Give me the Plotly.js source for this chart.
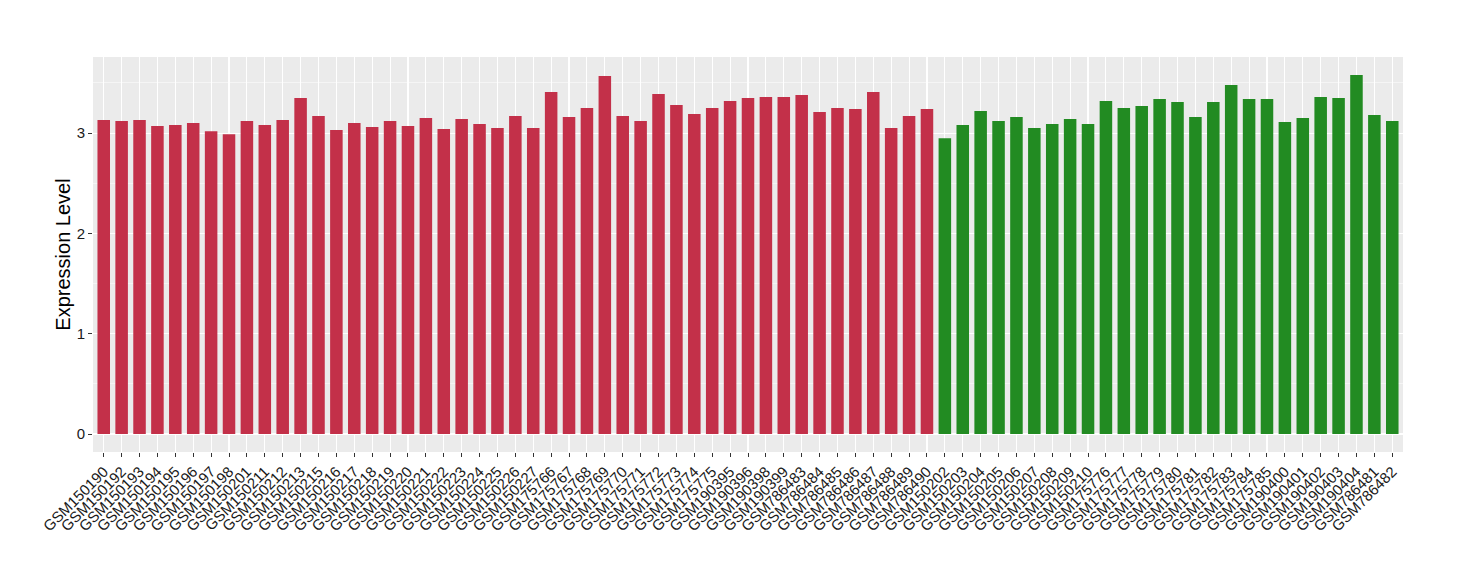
<!DOCTYPE html>
<html>
<head>
<meta charset="utf-8">
<script src="https://cdn.plot.ly/plotly-3.0.1.min.js"></script>
<style>html,body{margin:0;padding:0;background:#fff;}#chart{width:1460px;height:580px;}</style>
</head>
<body>
<div id="chart"></div>
<script>
const samples = [
  "GSM150190","GSM150192","GSM150193","GSM150194","GSM150195","GSM150196","GSM150197","GSM150198","GSM150201","GSM150211",
  "GSM150212","GSM150213","GSM150215","GSM150216","GSM150217","GSM150218","GSM150219","GSM150220","GSM150221","GSM150222",
  "GSM150223","GSM150224","GSM150225","GSM150226","GSM150227","GSM175766","GSM175767","GSM175768","GSM175769","GSM175770",
  "GSM175771","GSM175772","GSM175773","GSM175774","GSM175775","GSM190395","GSM190396","GSM190398","GSM190399","GSM786483",
  "GSM786484","GSM786485","GSM786486","GSM786487","GSM786488","GSM786489","GSM786490",
  "GSM150202","GSM150203","GSM150204","GSM150205","GSM150206","GSM150207","GSM150208","GSM150209","GSM150210",
  "GSM175776","GSM175777","GSM175778","GSM175779","GSM175780","GSM175781","GSM175782","GSM175783","GSM175784","GSM175785",
  "GSM190400","GSM190401","GSM190402","GSM190403","GSM190404","GSM786481","GSM786482"
];
const expression = [
  3.13,3.12,3.13,3.07,3.08,3.10,3.02,2.99,3.12,3.08,
  3.13,3.35,3.17,3.03,3.10,3.06,3.12,3.07,3.15,3.04,
  3.14,3.09,3.05,3.17,3.05,3.41,3.16,3.25,3.57,3.17,
  3.12,3.39,3.28,3.19,3.25,3.32,3.35,3.36,3.36,3.38,
  3.21,3.25,3.24,3.41,3.05,3.17,3.24,
  2.95,3.08,3.22,3.12,3.16,3.05,3.09,3.14,3.09,
  3.32,3.25,3.27,3.34,3.31,3.16,3.31,3.48,3.34,3.34,
  3.11,3.15,3.36,3.35,3.58,3.18,3.12
];
const groups = [];
for (let i = 0; i < 47; i++) groups.push("A");
for (let i = 0; i < 26; i++) groups.push("B");
const groupColors = {A: "#C33049", B: "#228B22"};
const yTicks = [0, 1, 2, 3];

const trace = {
  type: "bar",
  x: samples,
  y: expression,
  marker: {color: groups.map(g => groupColors[g]), line: {width: 0}},
  width: 0.7,
  hoverinfo: "x+y"
};

const layout = {
  width: 1460, height: 580,
  margin: {l: 93, r: 57, t: 57, b: 128},
  paper_bgcolor: "#FFFFFF",
  plot_bgcolor: "#EBEBEB",
  showlegend: false,
  font: {family: "Liberation Sans, Arial, sans-serif", color: "#333333"},
  xaxis: {
    type: "category",
    range: [-0.6, samples.length - 0.4],
    tickmode: "array",
    tickvals: samples,
    ticktext: samples,
    tickangle: -45,
    tickfont: {size: 15, color: "#1a1a1a"},
    showgrid: true, gridcolor: "#FFFFFF", gridwidth: 1.1,
    ticks: "outside", ticklen: 4, tickcolor: "#333333", tickwidth: 1,
    zeroline: false, showline: false, automargin: false
  },
  yaxis: {
    range: [-0.179, 3.759],
    tickvals: yTicks,
    ticktext: yTicks.map(String),
    tickfont: {size: 15, color: "#1a1a1a"},
    showgrid: true, gridcolor: "#FFFFFF", gridwidth: 1.1,
    minor: {dtick: 0.5, tick0: 0, showgrid: true, gridcolor: "#FFFFFF", gridwidth: 0.5, ticks: ""},
    ticks: "outside", ticklen: 4, tickcolor: "#333333", tickwidth: 1,
    zeroline: false, showline: false, automargin: false,
    title: {text: "Expression Level", font: {size: 20, color: "#000000"}, standoff: 0}
  },
  bargap: 0.3
};

Plotly.newPlot("chart", [trace], layout, {displayModeBar: false, staticPlot: true});
</script>
</body>
</html>
